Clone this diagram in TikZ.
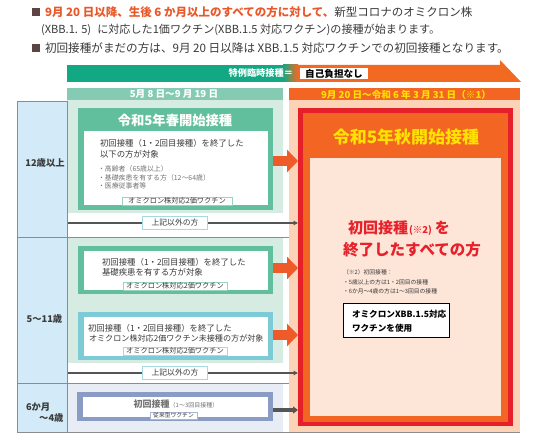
\documentclass[tikz,border=0pt]{standalone}
\usepackage{fontspec}
\setmainfont{Noto Sans CJK JP}
\usetikzlibrary{arrows.meta}
\newcommand{\myfs}[1]{\fontsize{#1}{#1}\selectfont}
\definecolor{tgreen}{HTML}{12A883}
\definecolor{torange}{HTML}{F26A22}
\definecolor{mintH}{HTML}{85CBB3}
\definecolor{mintP}{HTML}{D6ECE3}
\definecolor{lblue}{HTML}{D3EBF8}
\definecolor{gbox}{HTML}{62BF9D}
\definecolor{cbox}{HTML}{7DCBD6}
\definecolor{bbox}{HTML}{8A9CC4}
\definecolor{rowthree}{HTML}{E8ECF4}
\definecolor{arrO}{HTML}{EE5A28}
\definecolor{peach}{HTML}{FCD3B6}
\definecolor{bred}{HTML}{E5202A}
\definecolor{borange}{HTML}{F26522}
\definecolor{ipeach}{HTML}{FDE5D8}
\definecolor{yel}{HTML}{FFE200}
\definecolor{hdrorange}{HTML}{E9582A}
\definecolor{bulletc}{HTML}{5B4444}
\definecolor{txtdark}{HTML}{3A3A3A}
\definecolor{txtgray}{HTML}{747474}
\definecolor{framec}{HTML}{8C8C8C}
\definecolor{garr}{HTML}{555555}
\definecolor{lblg}{HTML}{9AD3BB}
\definecolor{lblc}{HTML}{A6D9E0}
\definecolor{lblb}{HTML}{AAB6D3}
\definecolor{redtxt}{HTML}{E8202A}
\tikzset{
  txt/.style={inner sep=0pt, outer sep=0pt, anchor=west},
  ctxt/.style={inner sep=0pt, outer sep=0pt},
  panel/.style={inner sep=0pt, outer sep=0pt},
  oarrow/.style={draw=arrO, line width=10pt, -{Triangle[length=11pt,width=22pt]}},
  garrow/.style={draw=garr, line width=1.6pt, -{Triangle[length=4.5pt,width=4.5pt]}},
  darrow/.style={draw=garr, line width=3.4pt, -{Triangle[length=5pt,width=7pt]}},
  vlabel/.style={line width=0.5pt, fill=white, inner xsep=3pt, inner ysep=0.8pt, text=txtdark, font=\myfs{7.2}},
  otherlbl/.style={draw=lblc, line width=0.6pt, fill=white, minimum width=65pt, minimum height=13pt, inner sep=0pt, text=txtdark, font=\myfs{7.8}},
  framel/.style={draw=framec, line width=0.7pt},
}
\begin{document}
\begin{tikzpicture}[x=1pt,y=-1pt]
\useasboundingbox (0,0) rectangle (538,441);
\fill[white] (0,0) rectangle (538,441);

% header
\fill[bulletc] (32,8.5) rectangle (40,16.5);
\node[txt] (h1) at (45,12.5) {\myfs{11.5}{\bfseries\color{hdrorange}9月 20 日以降、生後 6 か月以上のすべての方に対して、}{\color{txtdark}新型コロナのオミクロン株}};
\node[txt, text=txtdark] (h2) at (41,30) {\myfs{11.1}(XBB.1. 5)\hspace{6pt}に対応した1価ワクチン(XBB.1.5 対応ワクチン)の接種が始まります。};
\fill[bulletc] (32,44) rectangle (40,52);
\node[txt, text=txtdark] (h3) at (45,48) {\myfs{11.6}初回接種がまだの方は、9月 20 日以降は XBB.1.5 対応ワクチンでの初回接種となります。};

% top bar
\fill[tgreen] (67,65) rectangle (283.5,82);
\shade[left color=tgreen, right color=torange] (283,65) rectangle (298,82);
\fill[torange] (297.5,65) -- (500,65) -- (500,60) -- (521,82) -- (297.5,82) -- cycle;
\node[ctxt, anchor=east, text=white, font=\bfseries\myfs{9.2}] (tok) at (293,73.5) {特例臨時接種＝};
\node[fill=white, minimum width=68pt, minimum height=11.5pt, inner sep=0pt, text=black, font=\bfseries\myfs{9.6}] (jiko) at (334,73.5) {自己負担なし};

% column headers
\fill[mintH] (67,88) rectangle (283,100);
\node[ctxt, text=white, font=\bfseries\myfs{9.6}] (ch1) at (174,94.5) {5月 8 日～9 月 19 日};
\fill[borange] (289,88) rectangle (520,100);
\node[ctxt, text=yel, font=\bfseries\myfs{9.6}] (ch2) at (406,94.5) {9月 20 日～令和 6 年 3 月 31 日（※1）};

% panels
\fill[lblue] (17,101) rectangle (67,432);
\fill[mintP] (67,100) rectangle (283,213);
\fill[mintP] (67,237) rectangle (283,363);
\fill[rowthree] (67,383) rectangle (283,432);
\fill[peach] (289,100) rectangle (520,432);

% frame lines
\draw[framel] (17,101) -- (67,101);
\draw[framel] (17,101) -- (17,432) -- (520,432);
\draw[framel] (67,101) -- (67,432);
\draw[framel] (17,237) -- (289,237);
\draw[framel] (17,383) -- (289,383);

% row labels
\node[ctxt, text=txtdark, font=\bfseries\myfs{9.3}] (r1) at (45,163) {12歳以上};
\node[ctxt, text=txtdark, font=\bfseries\myfs{9.3}] (r2) at (44.5,319) {5～11歳};
\node[txt, text=txtdark, font=\bfseries\myfs{9.3}] (r3a) at (26,407.5) {6か月};
\node[txt, anchor=east, text=txtdark, font=\bfseries\myfs{9.3}] (r3b) at (63.5,418) {～4歳};

% big autumn box
\node[panel, fill=bred, minimum width=215pt, minimum height=318pt] (big) at (405.5,267) {};
\fill[borange] (303,113) rectangle (508,421.5);
\fill[ipeach] (310,158) rectangle (500.5,416);
\node[ctxt, text=yel, font=\bfseries\myfs{17}] (t2) at (406,137) {令和5年秋開始接種};
\node[ctxt, text=redtxt, font=\bfseries\myfs{15}] (rt1) at (399,228) {初回接種{\myfs{9.5}\hspace{1pt}(※2)\hspace{3pt}}を};
\node[ctxt, text=redtxt, font=\bfseries\myfs{15.5}] (rt2) at (412,250) {終了したすべての方};
\node[txt, text=txtdark, font=\myfs{5.8}] (n1) at (343,272) {（※2）初回接種：};
\node[txt, text=txtdark, font=\myfs{5.8}] (n2) at (343,282) {・5歳以上の方は1・2回目の接種};
\node[txt, text=txtdark, font=\myfs{5.8}] (n3) at (343,291.5) {・6か月～4歳の方は1～3回目の接種};
\node[panel, draw=black, line width=0.8pt, fill=white, minimum width=106pt, minimum height=34pt] (xbb) at (396,320) {};
\node[txt, text=black, font=\bfseries\myfs{8.6}] (x1) at (352,314.5) {オミクロンXBB.1.5対応};
\node[txt, text=black, font=\bfseries\myfs{8.6}] (x2) at (352,328.5) {ワクチンを使用};

% box A
\node[panel, fill=gbox, minimum width=195pt, minimum height=102pt] (boxA) at (175.5,159) {};
\fill[white] (83.5,131) rectangle (267.5,205);
\node[ctxt, text=white, font=\bfseries\myfs{13.3}] (t1) at (175,120) {令和5年春開始接種};
\node[txt, text=txtdark, font=\myfs{8.4}] (a1) at (100,143.5) {初回接種（1・2回目接種）を終了した};
\node[txt, text=txtdark, font=\myfs{8.4}] (a2) at (100,154.5) {以下の方が対象};
\node[txt, text=txtgray, font=\myfs{6.9}] (a3) at (98,169) {・高齢者（65歳以上）};
\node[txt, text=txtgray, font=\myfs{6.9}] (a4) at (98,177.5) {・基礎疾患を有する方（12～64歳）};
\node[txt, text=txtgray, font=\myfs{6.9}] (a5) at (98,186) {・医療従事者等};
\node[vlabel, draw=lblg, minimum width=110pt] (la) at (177,201) {オミクロン株対応2価ワクチン};

% box B
\node[panel, fill=gbox, minimum width=195pt, minimum height=48pt] (boxB) at (175.5,270) {};
\fill[white] (83.5,251) rectangle (267.5,290);
\node[txt, text=txtdark, font=\myfs{8.4}] (b1) at (102,262) {初回接種（1・2回目接種）を終了した};
\node[txt, text=txtdark, font=\myfs{8.4}] (b2) at (102,272.5) {基礎疾患を有する方が対象};
\node[vlabel, draw=lblg, minimum width=104pt] (lb) at (175,286) {オミクロン株対応2価ワクチン};

% box C
\node[panel, fill=cbox, minimum width=195pt, minimum height=48pt] (boxC) at (175.5,336) {};
\fill[white] (83.5,317) rectangle (267.5,356);
\node[txt, text=txtdark, font=\myfs{8.4}] (c1) at (88,328) {初回接種（1・2回目接種）を終了した};
\node[txt, text=txtdark, font=\myfs{8.1}] (c2) at (89,338.5) {オミクロン株対応2価ワクチン未接種の方が対象};
\node[vlabel, draw=lblc, minimum width=104pt] (lc) at (175,351) {オミクロン株対応2価ワクチン};

% box D
\node[panel, fill=bbox, minimum width=196pt, minimum height=29pt] (boxD) at (175,406.5) {};
\fill[white] (83,396.5) rectangle (268,417);
\node[ctxt, text=txtgray, font=\bfseries\myfs{9}] (d1) at (176,404) {初回接種{\mdseries\myfs{6}（1～3回目接種）}};
\node[vlabel, draw=lblb, minimum width=47pt, font=\myfs{5.8}] (ld) at (173.5,415.5) {従来型ワクチン};

% arrows
\coordinate (sa) at ([yshift=-2pt]boxA.east);
\draw[oarrow] (sa) -- (sa -| big.west);
\coordinate (sb) at ([yshift=2pt]boxB.east);
\draw[oarrow] (sb) -- (sb -| big.west);
\coordinate (sc) at ([yshift=1pt]boxC.east);
\draw[oarrow] (sc) -- (sc -| big.west);
\coordinate (sd) at ([yshift=-3.5pt]boxD.east);
\draw[darrow] (sd) -- (sd -| big.west);
\coordinate (o1) at (67.5,223);
\draw[garrow] (o1) -- (o1 -| big.west);
\node[otherlbl] (ol1) at (175,223) {上記以外の方};
\coordinate (o2) at (67.5,373);
\draw[garrow] (o2) -- (o2 -| big.west);
\node[otherlbl] (ol2) at (175,373) {上記以外の方};
\end{tikzpicture}
\end{document}
